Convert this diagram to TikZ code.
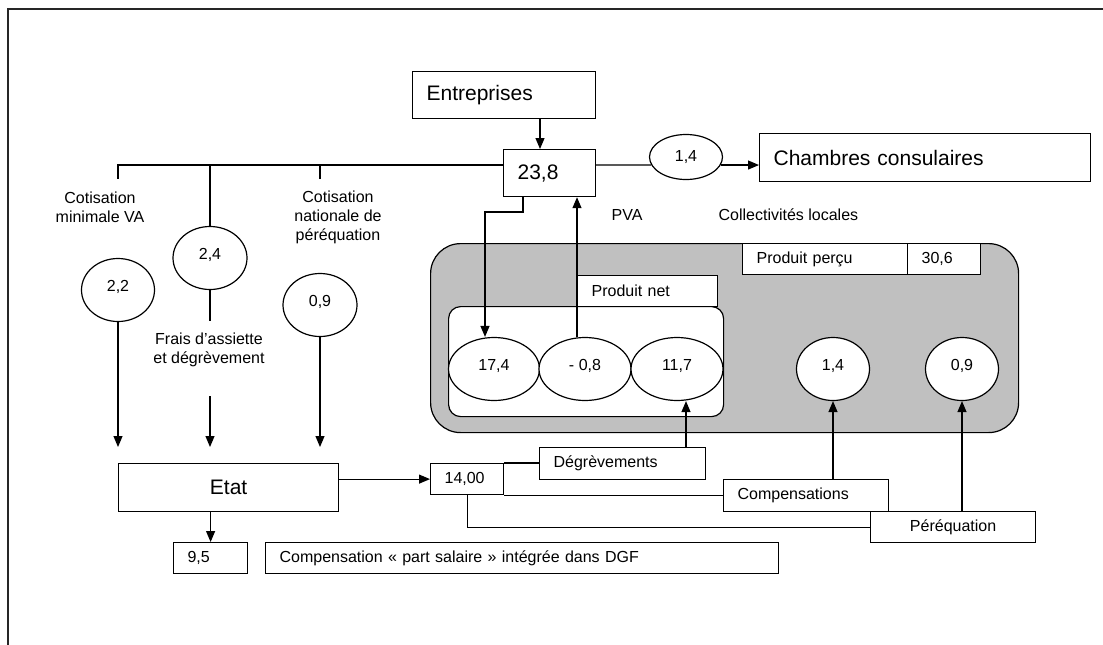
\documentclass[tikz,border=0pt]{standalone}
\usepackage{fontspec}
\setmainfont{Liberation Sans}
\usetikzlibrary{arrows.meta, shapes.geometric}
\definecolor{grisfond}{RGB}{192,192,192}
\tikzset{
  boite/.style={draw, rectangle, fill=white, anchor=north west, inner ysep=0pt, inner xsep=14pt, align=left, font=\fontsize{16}{19}\selectfont},
  grand/.style={font=\fontsize{21}{25}\selectfont},
  bulle/.style={draw, ellipse, fill=white, inner sep=0pt, minimum width=73pt, minimum height=63pt, text height=11pt, text depth=8pt, font=\fontsize{16}{19}\selectfont},
  texte/.style={align=center, inner sep=0pt, font=\fontsize{16}{19}\selectfont},
  fleche/.style={-{Triangle[length=11pt,width=9pt]}}
}

\begin{document}
\begin{tikzpicture}[x=1pt, y=-1pt, line width=1.2pt]
        \useasboundingbox (0,0) rectangle (1103,645);
        \draw[line width=1.5pt, black!85] (8,645) -- (8,9) -- (1103,9);

        \node[draw, fill=grisfond, rounded corners=30pt, anchor=north west, inner sep=0pt, minimum width=588pt, minimum height=189pt] (collectivites) at (430,243) {};
        \node[draw, fill=white, rounded corners=12pt, anchor=north west, inner sep=0pt, minimum width=275pt, minimum height=110pt] (net) at (448,306) {};

        \node[boite, grand, text width=155pt, minimum height=47pt] (entreprises) at (412,71) {Entreprises};
        \node[boite, grand, text width=64pt, minimum height=47pt] (total) at (503,149) {23,8};
        \node[boite, grand, text width=303pt, minimum height=48pt] (chambres) at (759,133) {Chambres consulaires};
        \node[boite, grand, text width=192pt, minimum height=48pt, align=center] (etat) at (118,463) {Etat};
        \node[boite, text width=137pt, minimum height=31pt] (produitpercu) at (742,243) {Produit perçu};
        \node[boite, text width=45pt, minimum height=31pt] (percu) at (907,243) {30,6};
        \node[boite, text width=112pt, minimum height=31pt] (produitnet) at (577,275) {Produit net};
        \node[boite, text width=138pt, minimum height=32pt] (degrevements) at (539,447) {Dégrèvements};
        \node[boite, text width=45pt, minimum height=31pt] (quatorze) at (430,463) {14,00};
        \node[boite, text width=137pt, minimum height=32pt] (compensations) at (723,479) {Compensations};
        \node[boite, text width=137pt, minimum height=31pt, align=center] (perequation) at (870,511) {Péréquation};
        \node[boite, text width=46pt, minimum height=31pt] (dgf) at (173,542) {9,5};
        \node[boite, text width=485pt, minimum height=31pt] (partsalaire) at (265,542) {Compensation « part salaire » intégrée dans DGF};

        \node[bulle] (minimale) at (118,290) {2,2};
        \node[bulle, minimum width=74pt] (frais) at (210,258) {2,4};
        \node[bulle, minimum width=74pt] (nationale) at (320,305) {0,9};
        \node[bulle, minimum height=45pt, text depth=3pt] (consulaire) at (686,157) {1,4};
        \node[bulle, minimum width=91pt] (brut) at (494,369) {17,4};
        \node[bulle, minimum width=92pt] (pva) at (585,369) {- 0,8};
        \node[bulle, minimum width=92pt] (degrevement) at (677,369) {11,7};
        \node[bulle] (compensation) at (833,369) {1,4};
        \node[bulle] (perequ) at (962,369) {0,9};

        \node[texte] (cotmin) at (100,207) {Cotisation\\minimale VA};
        \node[texte] (cotnat) at (338,217) {Cotisation\\nationale de\\péréquation};
        \node[texte] (fraisassiette) at (209,350) {Frais d’assiette\\et dégrèvement};
        \node[texte] (pvatexte) at (627,215) {PVA};
        \node[texte, anchor=west] (collloc) at (718,215) {Collectivités locales};

        \coordinate (niveau) at (0,165);
        \coordinate (cmin) at (118,179);
        \coordinate (cnat) at (320,179);
        \coordinate (xent) at (540,0);
        \coordinate (xdep) at (523,0);
        \coordinate (coude) at (485,212);
        \coordinate (xdeg) at (686,0);
        \coordinate (fraisbas) at (0,321);
        \coordinate (fraishaut) at (0,396);
        \coordinate (pointe) at (0,447);

        \draw[fleche] (entreprises.south -| xent) -- (total.north -| xent);
        \draw (total.west |- niveau) -| (cmin);
        \draw (frais.north) -- (frais.north |- niveau);
        \draw (cnat) -- (cnat |- niveau);
        \draw (total.east |- niveau) -- (consulaire.193);
        \draw[fleche] (consulaire.347) -- (chambres.west |- consulaire.347);

        \draw[fleche] (total.south -| xdep) |- (coude) -- (brut.north -| coude);
        \draw[fleche] (pva.north -| produitnet.west) -- (total.south -| produitnet.west);

        \draw[fleche] (minimale.south) -- (minimale.south |- pointe);
        \draw (frais.south) -- (frais.south |- fraisbas);
        \draw[fleche] (frais.south |- fraishaut) -- (frais.south |- pointe);
        \draw[fleche] (nationale.south) -- (nationale.south |- pointe);

        \draw[fleche] (etat.east |- quatorze.west) -- (quatorze.west);
        \draw[fleche] (etat.south -| dgf.north) -- (dgf.north);

        \draw (quatorze.north east) -- (degrevements.west |- quatorze.north east);
        \draw (quatorze.south east) -- (compensations.west |- quatorze.south east);
        \draw (quatorze.south) |- (perequation.west);

        \draw[fleche] (degrevements.north -| xdeg) -- (degrevement.south -| xdeg);
        \draw[fleche] (compensation.south |- compensations.north) -- (compensation.south);
        \draw[fleche] (perequ.south |- perequation.north) -- (perequ.south);
    \end{tikzpicture}
\end{document}
